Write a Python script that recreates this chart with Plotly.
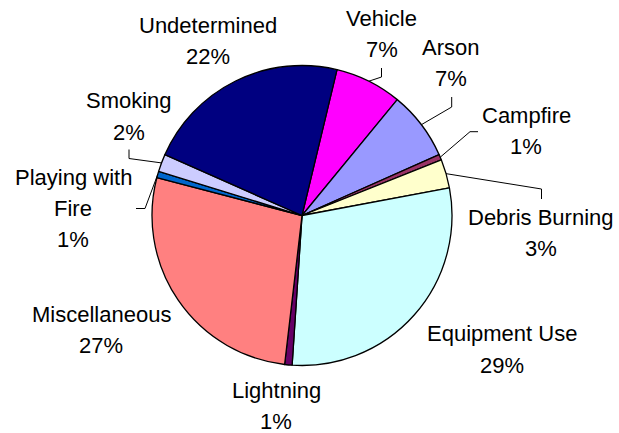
import plotly.graph_objects as go
import math

# ---- data ----
causes = ["Vehicle", "Arson", "Campfire", "Debris Burning", "Equipment Use",
          "Lightning", "Miscellaneous", "Playing with Fire", "Smoking", "Undetermined"]
shares = [7.2, 7.4, 0.6, 3.1, 29.0, 0.8, 27.2, 0.7, 1.9, 22.1]
label_lines = [["Vehicle"], ["Arson"], ["Campfire"], ["Debris Burning"], ["Equipment Use"],
               ["Lightning"], ["Miscellaneous"], ["Playing with", "Fire"], ["Smoking"], ["Undetermined"]]
colors = ["#FF00FF", "#9999FF", "#993366", "#FFFFCC", "#CCFFFF",
          "#660066", "#FF8080", "#0066CC", "#CCCCFF", "#000080"]

# ---- layout (pixels) ----
W, H = 619, 433
CX, CY, R = 302, 215.5, 150
START = 13.5
FONT = 22
LINE = 31.5
# label block centers (px)
label_pos = [(381.5, 34), (450.7, 63), (526, 131), (540.5, 233), (501.5, 349.5),
             (276, 406), (101, 330), (73, 208.5), (129, 116.5), (208, 41)]
# leader: index -> (end dx, end dy, elbow dx, elbow dy) relative to label centre
leaders = {0: (0, 34, 0, 43), 1: (1, 34, 1, 44), 2: (-48, 0.7, -56, 0.7),
           3: (1, -34, 1, -44), 7: (63, 0, 72, 0), 8: (0, 33, 0, 42)}

def px(x):
    return x / W

def py(y):
    return 1 - y / H

fig = go.Figure(go.Pie(
    labels=causes, values=shares, sort=False, direction="clockwise", rotation=START,
    marker=dict(colors=colors, line=dict(color="black", width=1.3)),
    textinfo="none", hoverinfo="label+percent",
    domain=dict(x=[px(CX - R), px(CX + R)], y=[py(CY + R), py(CY - R)]),
))

total = sum(shares)
annotations = []
shapes = []
cum = 0.0
for i, (name_lines, v) in enumerate(zip(label_lines, shares)):
    mid = START + (cum + v / 2) / total * 360
    cum += v
    lines = name_lines + [f"{round(v / total * 100)}%"]
    cx, cy = label_pos[i]
    n = len(lines)
    for k, t in enumerate(lines):
        ly = cy + (k - (n - 1) / 2) * LINE
        annotations.append(dict(x=px(cx), y=py(ly), xref="paper", yref="paper", text=t,
                                showarrow=False, xanchor="center", yanchor="middle",
                                font=dict(size=FONT, color="black",
                                          family="Liberation Sans, Arial, sans-serif")))
    if i in leaders:
        edx, edy, bdx, bdy = leaders[i]
        ax = CX + R * math.sin(math.radians(mid))
        ay = CY - R * math.cos(math.radians(mid))
        path = (f"M {px(ax)},{py(ay)} L {px(cx + bdx)},{py(cy + bdy)} "
                f"L {px(cx + edx)},{py(cy + edy)}")
        shapes.append(dict(type="path", xref="paper", yref="paper", path=path,
                           line=dict(color="black", width=1)))

fig.update_layout(width=W, height=H, margin=dict(l=0, r=0, t=0, b=0),
                  paper_bgcolor="white", plot_bgcolor="white", showlegend=False,
                  annotations=annotations, shapes=shapes)
fig.write_html("out.html", config={"displayModeBar": False},
               post_script="document.body.style.margin='0';document.body.style.padding='0';")
